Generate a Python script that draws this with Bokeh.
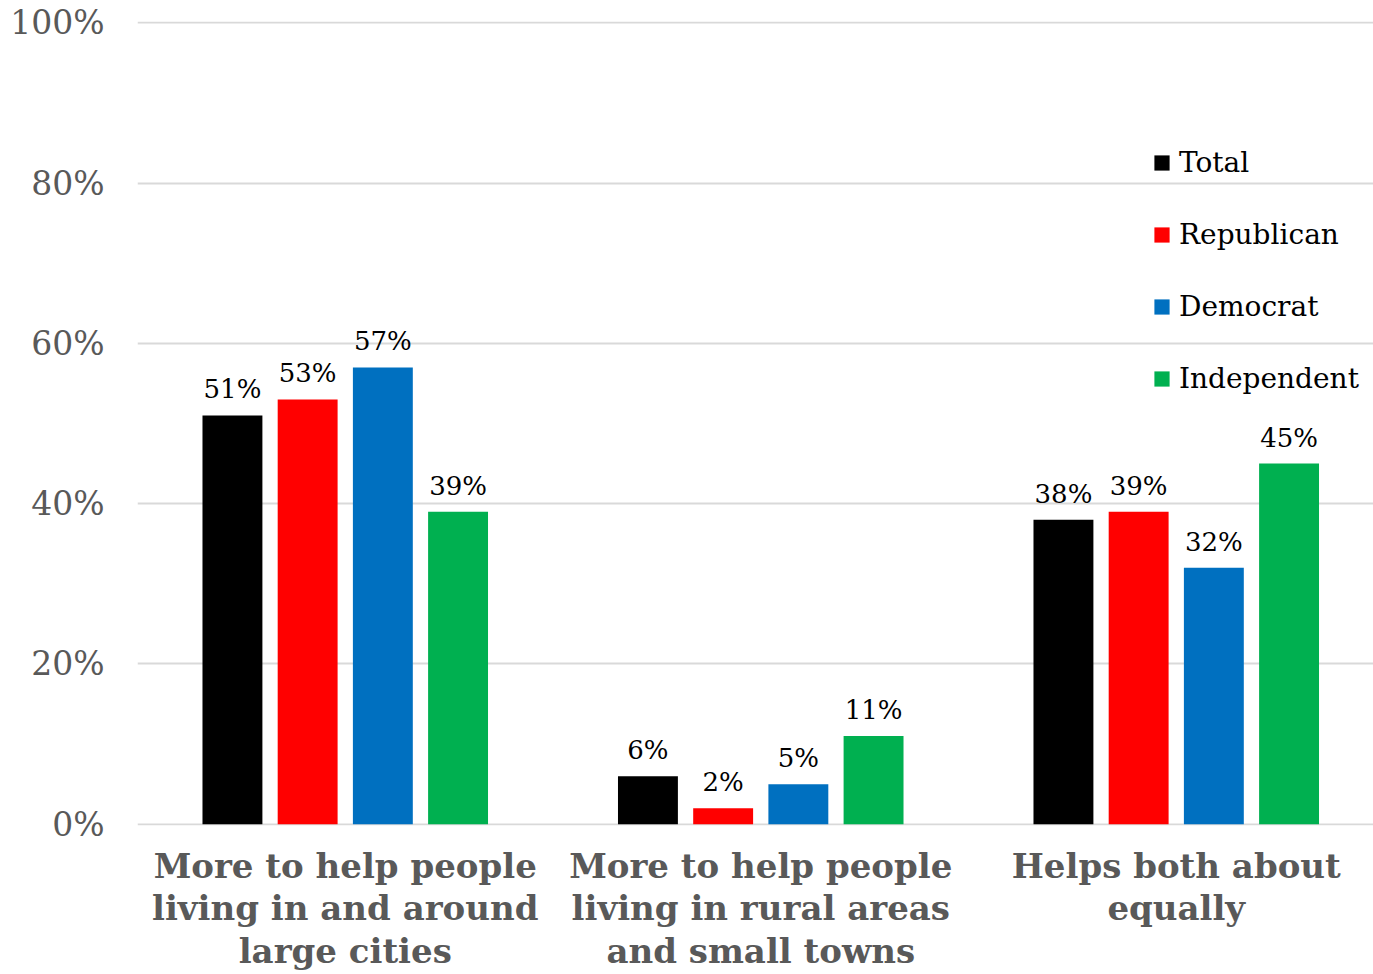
from bokeh.plotting import figure
from bokeh.models import (ColumnDataSource, Range1d, FixedTicker, Legend, LegendItem)
from bokeh.embed import file_html
from bokeh.resources import INLINE
from bokeh.core.properties import value

categories = ["More to help people\nliving in and around\nlarge cities",
              "More to help people\nliving in rural areas\nand small towns",
              "Helps both about\nequally"]
series = ["Total", "Republican", "Democrat", "Independent"]
total = [51, 6, 38]
republican = [53, 2, 39]
democrat = [57, 5, 32]
independent = [39, 11, 45]
y_ticks = [0, 20, 40, 60, 80, 100]
y_tick_labels = ["0%", "20%", "40%", "60%", "80%", "100%"]

colors = ["#000000", "#FF0000", "#0070C0", "#00B050"]
values = [total, republican, democrat, independent]

FONT = "DejaVu Serif"
W, H = 1373, 974
LEFT, TOP, BOTTOM = 137, 21, 149
p = figure(width=W, height=H, output_backend="svg", toolbar_location=None,
           x_range=Range1d(0, (W - LEFT) / 415.5), y_range=Range1d(-0.15, 100.15),
           min_border_left=LEFT, min_border_right=0, min_border_top=TOP,
           min_border_bottom=BOTTOM)
p.outline_line_color = None
p.background_fill_color = "white"
p.border_fill_color = "white"

centers = [i + 0.5 for i in range(len(categories))]
bar_w = 0.1442
step = 0.181
offsets = [-1.5 * step, -0.5 * step, 0.5 * step, 1.5 * step]

items = []
for name, vals, col, off in zip(series, values, colors, offsets):
    src = ColumnDataSource(dict(x=[c + off for c in centers], top=vals,
                                lab=["%d%%" % v for v in vals]))
    r = p.vbar(x="x", top="top", width=bar_w, source=src, fill_color=col,
               line_color=None)
    p.text(x="x", y="top", text="lab", source=src, text_align="center",
           text_baseline="alphabetic", y_offset=-26,
           text_font=value(FONT), text_font_size="26px", text_color="#000000")
    items.append(LegendItem(label=name, renderers=[r]))

# axes
p.xaxis.ticker = FixedTicker(ticks=centers)
p.xaxis.major_label_overrides = {c: lab for c, lab in zip(centers, categories)}
p.xaxis.major_label_text_font = FONT
p.xaxis.major_label_text_font_style = "bold"
p.xaxis.major_label_text_font_size = "34px"
p.xaxis.major_label_text_color = "#595959"
p.xaxis.major_label_text_line_height = 1.07
p.xaxis.major_label_standoff = 14
p.xaxis.axis_line_color = None
p.xaxis.major_tick_line_color = None
p.xaxis.minor_tick_line_color = None

p.yaxis.ticker = FixedTicker(ticks=y_ticks)
p.yaxis.major_label_overrides = {t: l for t, l in zip(y_ticks, y_tick_labels)}
p.yaxis.major_label_text_font = FONT
p.yaxis.major_label_text_font_size = "33px"
p.yaxis.major_label_text_color = "#595959"
p.yaxis.major_label_standoff = 27
p.yaxis.axis_line_color = None
p.yaxis.major_tick_line_color = None
p.yaxis.minor_tick_line_color = None

p.xgrid.grid_line_color = None
p.ygrid.grid_line_color = "#D9D9D9"
p.ygrid.grid_line_width = 2

legend = Legend(items=items, location=(1015, 430), orientation="vertical",
                background_fill_alpha=0, border_line_color=None,
                padding=0, margin=0, spacing=39,
                glyph_width=19, glyph_height=19, label_height=30,
                label_standoff=8,
                label_text_font=FONT, label_text_font_size="28px",
                label_text_color="#000000")
p.add_layout(legend)

open("out.html", "w").write(file_html(p, INLINE))
